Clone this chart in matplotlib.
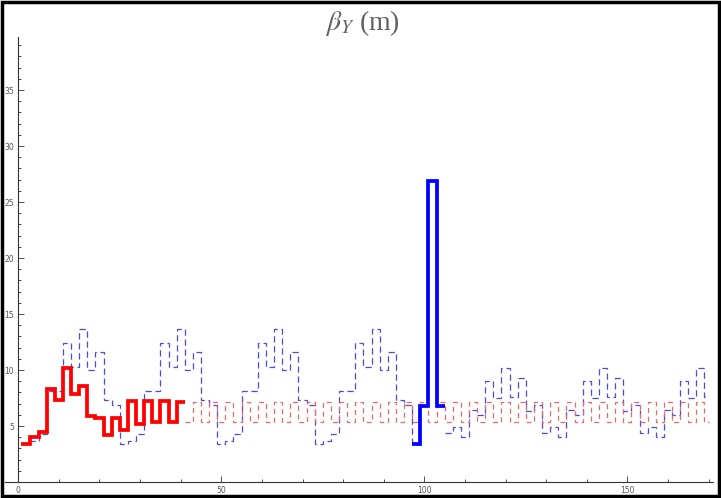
import numpy as np
import matplotlib.pyplot as plt
from matplotlib.patches import Rectangle

# matching section (thick red)
red_match_edges = [0.7, 3, 5, 7, 9, 11, 13, 15, 17, 19, 21, 23, 25, 27, 29, 31, 33, 35, 37, 39, 41]
red_match_vals = [3.4, 4.05, 4.45, 8.3, 7.3, 10.2, 7.85, 8.55, 5.85, 5.75,
                  4.2, 5.7, 4.6, 7.2, 5.15, 7.2, 5.4, 7.2, 5.4, 7.1]

# FODO continuation (dashed red): low / high cell, 41 -> 170
fodo_cell = [5.4, 7.1]
fodo_start, fodo_end = 41, 170.1

# arc lattice (dashed blue), one 24 m cell, first part 1 -> 97
arc_cell_1 = [3.4, 3.7, 4.3, 8.1, 8.1, 12.4, 10.3, 13.7, 10.0, 11.6, 7.3, 6.9]
arc_start_1, arc_cells_1 = 1, 4
# second part after the insertion, 105 -> 170
arc_cell_2 = [4.35, 4.9, 4.05, 6.4, 6.0, 9.0, 7.5, 10.15, 7.6, 9.3, 6.3, 6.9]
arc_start_2, arc_end_2 = 105, 170.1

# insertion (thick blue)
ins_edges = [97, 99, 101, 103, 105]
ins_vals = [3.4, 6.8, 26.9, 6.8]

seg = 2.0  # element length

def cell_steps(cell, start, end):
    edges = list(np.arange(start, end, seg)) + [end]
    n = len(edges) - 1
    vals = [cell[i % len(cell)] for i in range(n)]
    return vals, edges

fig = plt.figure(figsize=(7.21, 4.98), dpi=100)
ax = fig.add_axes([5.3 / 721, 16 / 498, (712.6 - 5.3) / 721, (482 - 37.4) / 498])

v, e = cell_steps(arc_cell_1, arc_start_1, arc_start_1 + 24 * arc_cells_1 + 2)
v[-1] = arc_cell_1[0]
ax.stairs(v, e, baseline=None, color='#4b4bdc', lw=0.9, linestyle=(0, (5, 3)), zorder=2)
v, e = cell_steps(arc_cell_2, arc_start_2, arc_end_2)
ax.stairs(v, e, baseline=None, color='#4b4bdc', lw=0.9, linestyle=(0, (5, 3)), zorder=2)

v, e = cell_steps(fodo_cell, fodo_start, fodo_end)
ax.stairs(v, e, baseline=None, color='#e86a6a', lw=0.9, linestyle=(0, (4, 3)), zorder=2)

ax.stairs(red_match_vals, red_match_edges, baseline=None, color='#ff0000', lw=2.7, zorder=3)
ax.stairs(ins_vals, ins_edges, baseline=None, color='#0000ff', lw=2.7, zorder=4)

ax.set_xlim(-3.2, 171)
ax.set_ylim(0, 39.7)

for s in ['top', 'right']:
    ax.spines[s].set_visible(False)
ax.spines['left'].set_position(('data', 0))
ax.spines['left'].set_color('#333333')
ax.spines['bottom'].set_color('#333333')
ax.spines['left'].set_linewidth(0.8)
ax.spines['bottom'].set_linewidth(0.8)

ax.set_xticks([0, 50, 100, 150])
ax.set_xticks(np.arange(0, 171, 10), minor=True)
ax.set_yticks([5, 10, 15, 20, 25, 30, 35])
ax.set_yticks(np.arange(1, 40, 1), minor=True)
ax.tick_params(which='both', direction='in', colors='#333333', labelcolor='#555555',
               labelsize=5.5, width=0.6)
ax.tick_params(which='major', length=4)
ax.tick_params(which='minor', length=2.5)
ax.tick_params(axis='x', pad=3)
ax.tick_params(axis='y', pad=3)

plt.rcParams['mathtext.fontset'] = 'stix'
fig.text(0.503, 1 - 23 / 498, r'$\beta_Y$ (m)', ha='center', va='center',
         fontsize=20, color='#606060', family='Liberation Serif')

fig.patches.append(Rectangle((0.003, 0.004), 0.994, 0.992, transform=fig.transFigure,
                             fill=False, edgecolor='black', lw=2.5))

fig.savefig('out.png', dpi=100)
